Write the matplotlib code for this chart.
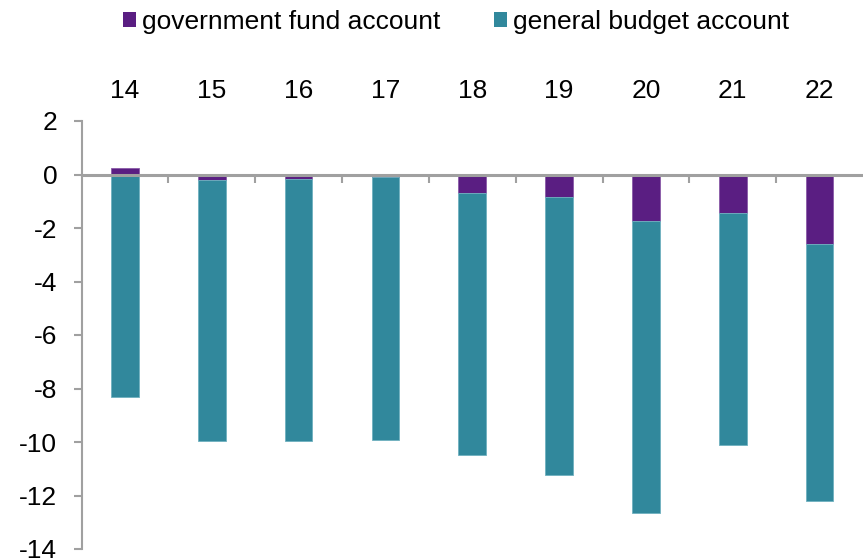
import matplotlib
matplotlib.use("Agg")
import matplotlib.pyplot as plt
from matplotlib.patches import Patch
import numpy as np

plt.rcParams['font.family'] = ['Liberation Sans', 'DejaVu Sans']

years = ["14", "15", "16", "17", "18", "19", "20", "21", "22"]
government_fund = [0.25, -0.20, -0.18, -0.08, -0.68, -0.84, -1.74, -1.44, -2.60]
general_budget = [-8.31, -9.77, -9.79, -9.83, -9.82, -10.39, -10.90, -8.67, -9.61]

purple = "#5a1e82"
teal = "#31889c"
grey = "#a0a0a0"
fs = 19

fig = plt.figure(figsize=(8.63, 5.58), dpi=100)
ax = fig.add_axes([81.5 / 863, 9 / 558, 1 - 81.5 / 863, (549 - 121) / 558])

x = np.arange(len(years))
gf = np.array(government_fund)
gb = np.array(general_budget)
# general budget stacks below the fund bar when the fund bar is negative
gb_bottom = np.where(gf < 0, gf, 0.0)

width = 0.32
ax.bar(x, gf, width, color=purple, edgecolor="#8a5aa8", linewidth=0.6, zorder=2)
ax.bar(x, gb, width, bottom=gb_bottom, color=teal, edgecolor="#6fb0bf",
       linewidth=0.6, zorder=2)

ax.set_xlim(-0.5, len(years) - 0.5)
ax.set_ylim(-14, 2)
ax.set_yticks(np.arange(-14, 3, 2))
ax.set_yticklabels([str(v) for v in range(-14, 3, 2)])

ax.set_xticks(x)
ax.set_xticklabels(years)
ax.set_xticks(np.arange(0.5, len(years) - 0.5, 1), minor=True)

ax.spines['top'].set_visible(False)
ax.spines['right'].set_visible(False)
ax.spines['left'].set_color(grey)
ax.spines['left'].set_linewidth(1.5)
ax.spines['bottom'].set_position(('data', 0))
ax.spines['bottom'].set_color(grey)
ax.spines['bottom'].set_linewidth(2.2)
ax.spines['bottom'].set_zorder(3)

ax.tick_params(axis='x', which='major', bottom=False, top=False,
               labelbottom=False, labeltop=True, labelsize=fs, pad=9.5)
ax.tick_params(axis='x', which='minor', bottom=True, top=False,
               direction='out', length=6, width=1.5, color=grey)
ax.tick_params(axis='y', which='major', direction='out', length=6, width=1.5,
               color=grey, labelsize=fs, pad=11.5)

handles = [Patch(facecolor=purple, edgecolor='none'),
           Patch(facecolor=teal, edgecolor='none')]
fig.legend(handles, ["government fund account", "general budget account"],
           loc='center', bbox_to_anchor=(456 / 863, 1 - 22 / 558), ncol=2,
           frameon=False, fontsize=fs, handlelength=0.51, handleheight=0.51,
           handletextpad=0.23, columnspacing=2.0, borderpad=0)

fig.savefig("out.png", dpi=100)
